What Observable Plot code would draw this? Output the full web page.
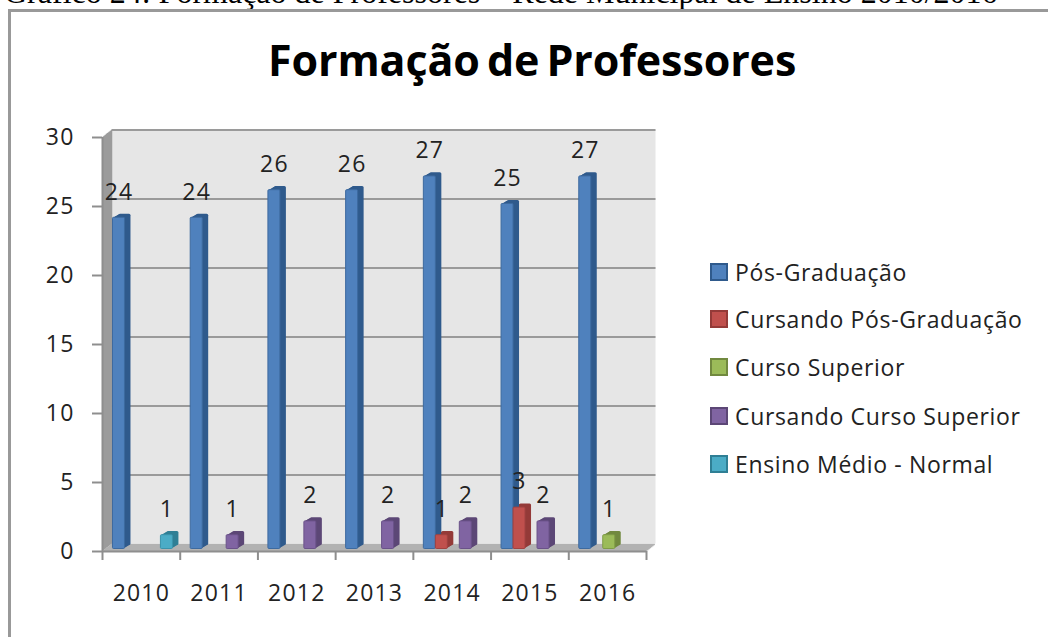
<!DOCTYPE html>
<html lang="pt">
<head>
<meta charset="utf-8">
<script src="https://cdn.jsdelivr.net/npm/d3@7"></script>
<script src="https://cdn.jsdelivr.net/npm/@observablehq/plot@0.6"></script>
<style>
  html, body { margin: 0; padding: 0; background: #fff; overflow: hidden; }
  #page { position: relative; width: 1048px; height: 637px; overflow: hidden; font-family: "Open Sans", sans-serif; color: #222; }
  #caption { position: absolute; left: 4px; top: -26px; white-space: nowrap; font: 32px "Liberation Serif", serif; color: #000; }
  #box { position: absolute; left: 8px; top: 9px; right: 0; bottom: 0; border-left: 3px solid #999; border-top: 3px solid #999; }
  #title { position: absolute; left: 268px; top: 31px; white-space: nowrap; font-size: 43px; font-weight: 700; color: #000; line-height: 58px; word-spacing: -4px; letter-spacing: -0.1px; }
  #chart { position: absolute; left: 0; top: 0; }
  #chart svg text { letter-spacing: 1.2px; }
  .row { position: absolute; left: 710px; height: 24px; display: flex; align-items: center; white-space: nowrap; font-size: 23px; letter-spacing: 0.65px; }
  .sw { width: 14px; height: 14px; border: 2px solid; margin-right: 7px; }
</style>
</head>
<body>
<div id="page">
  <div id="caption">Gráfico 24: Formação de Professores – Rede Municipal de Ensino 2010/2016</div>
  <div id="box"></div>
  <div id="chart"></div>
  <div id="title">Formação de Professores</div>
</div>
<script>
const years = [2010, 2011, 2012, 2013, 2014, 2015, 2016];
const seriesNames = ["Pós-Graduação", "Cursando Pós-Graduação", "Curso Superior", "Cursando Curso Superior", "Ensino Médio - Normal"];
const posGraduacao     = [24, 24, 26, 26, 27, 25, 27];
const cursandoPos      = [null, null, null, null, 1, 3, null];
const cursoSuperior    = [null, null, null, null, null, null, 1];
const cursandoSuperior = [null, 1, 2, 2, 2, 2, null];
const ensinoMedio      = [1, null, null, null, null, null, null];
const fronts = ["#4f81bd", "#c0504d", "#9bbb59", "#8064a2", "#4bacc6"];
const sides  = ["#2f5a8c", "#943a38", "#71893f", "#5c4776", "#2f7f95"];
const edges  = ["#3d6a9f", "#a04240", "#7f9c47", "#6a5289", "#3a93ab"];

const seriesValues = [posGraduacao, cursandoPos, cursoSuperior, cursandoSuperior, ensinoMedio];
const rows = seriesValues.flatMap((vals, s) =>
  vals.map((v, i) => ({year: years[i], s, v})).filter(d => d.v != null));

// layout helpers: bars sit in five overlapping slots of each year's band
const slot = d => d.year + (10.5 + 12 * d.s) / 77.8;
const slotEnd = d => slot(d) + 12 / 77.8;
const slotMid = d => slot(d) + 6 / 77.8;
const wall = {dx: 9.5, dy: -7.5};
const bounds = [{x1: 2010, x2: 2017, y1: 0, y2: 30}];
const gridValues = [5, 10, 15, 20, 25, 30];

const sideWall = d3.range(1, 10).map(k => Plot.ruleX([2010], {y1: 0, y2: 30, stroke: "#9b9b9b", strokeWidth: 1.5, dx: k, dy: -k * 0.79}));
const floor = d3.range(1, 8).map(k => Plot.ruleY([0], {x1: 2010, x2: 2017, stroke: "#b2b2b2", strokeWidth: 1.5, dx: k * 1.27, dy: -k}));
const extrusion = d3.range(1, 6.5).map(k => Plot.rect(rows, {
  x1: slot, x2: slotEnd, y1: 0, y2: "v",
  fill: d => sides[d.s], rx: 1.5, dx: k, dy: -2.5 - k * 0.6
}));

const chart = Plot.plot({
  width: 1048, height: 637,
  marginLeft: 102, marginRight: 402, marginTop: 137, marginBottom: 86,
  style: {background: "transparent", fontFamily: "'Open Sans', sans-serif", color: "#222", overflow: "visible"},
  x: {domain: [2010, 2017], axis: null},
  y: {domain: [0, 30], axis: null},
  marks: [
    Plot.rect(bounds, {x1: "x1", x2: "x2", y1: "y1", y2: "y2", fill: "#e6e6e6", ...wall}),
    ...sideWall,
    ...floor,
    Plot.ruleY(gridValues, {x1: 2010, x2: 2017, stroke: "#9a9a9a", strokeWidth: 2, ...wall}),
    Plot.axisY({ticks: [0, 5, 10, 15, 20, 25, 30], tickSize: 10, tickPadding: 18, stroke: "#8e8e8e", strokeWidth: 2, strokeOpacity: 1, fontSize: 23, fill: "#222"}),
    Plot.axisX({ticks: d3.range(2010, 2018), tickSize: 9, tickFormat: () => "", stroke: "#8e8e8e", strokeWidth: 2, strokeOpacity: 1}),
    Plot.axisX({ticks: years.map(y => y + 0.5), tickSize: 0, tickPadding: 33, tickFormat: d => String(Math.floor(d)), fontSize: 23, fill: "#222"}),
    Plot.ruleY([0], {x1: 2010, x2: 2017, stroke: "#8e8e8e", strokeWidth: 2}),
    Plot.ruleX([2010], {y1: 0, y2: 30, stroke: "#8e8e8e", strokeWidth: 2}),
    ...extrusion,
    Plot.rect(rows, {
      x1: slot, x2: slotEnd, y1: 0, y2: "v",
      fill: d => fronts[d.s], stroke: d => edges[d.s], strokeWidth: 1, rx: 1, dy: -2.5
    }),
    Plot.text(rows, {
      x: slotMid, y: "v", text: "v", dy: -28, fontSize: 23, fill: "#222", textAnchor: "middle", lineAnchor: "middle"
    })
  ]
});
document.getElementById("chart").appendChild(chart);

const legendY = [259.5, 307, 355, 404, 452];
const page = document.getElementById("page");
seriesNames.forEach((name, i) => {
  const row = document.createElement("div");
  row.className = "row";
  row.style.top = legendY[i] + "px";
  const sw = document.createElement("span");
  sw.className = "sw";
  sw.style.background = fronts[i];
  sw.style.borderColor = sides[i];
  row.appendChild(sw);
  row.appendChild(document.createTextNode(name));
  page.appendChild(row);
});
</script>
</body>
</html>
